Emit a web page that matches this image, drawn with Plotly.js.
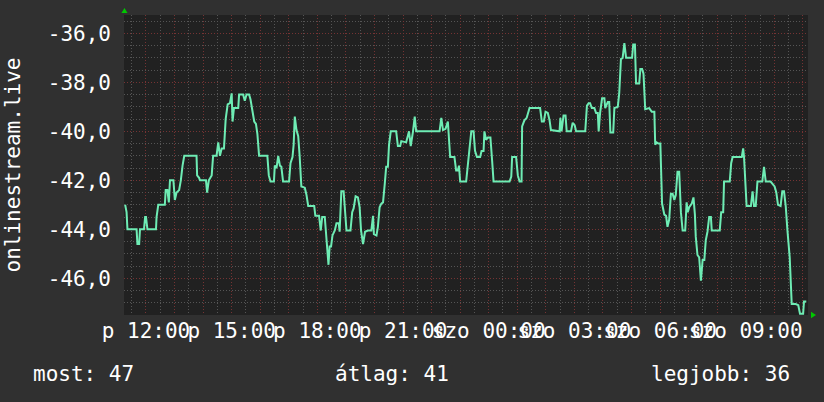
<!DOCTYPE html>
<html>
<head>
<meta charset="utf-8">
<script src="https://cdn.plot.ly/plotly-3.0.1.min.js"></script>
<style>html,body{margin:0;padding:0;background:#303030;}#chart{width:824px;height:402px;}</style>
</head>
<body>
<div id="chart"></div>
<script>
// time in hours from Friday 00:00 (values > 24 are Saturday)
const hours = [
 11.27,11.32,11.35,11.67,11.70,11.76,11.79,11.93,11.97,12.00,
 12.05,12.35,12.37,12.43,12.66,12.69,12.75,12.80,12.84,12.96,
 13.01,13.07,13.16,13.22,13.28,13.34,13.77,13.79,13.86,13.89,
 14.10,14.14,14.20,14.30,14.35,14.47,14.53,14.59,14.65,14.73,
 14.79,14.86,14.94,15.00,15.03,15.08,15.23,15.26,15.40,15.46,
 15.52,15.61,15.66,15.72,15.79,15.85,15.90,15.96,16.25,16.30,
 16.36,16.48,16.51,16.57,16.63,16.69,16.74,16.80,17.01,17.06,
 17.13,17.17,17.21,17.27,17.33,17.38,17.44,17.56,17.62,17.68,
 17.89,17.93,18.06,18.12,18.17,18.26,18.29,18.34,18.39,18.43,
 18.48,18.53,18.61,18.67,18.75,18.78,18.84,18.92,18.97,19.02,
 19.16,19.22,19.27,19.34,19.42,19.48,19.53,19.60,19.67,19.77,
 19.89,19.95,19.98,20.07,20.12,20.18,20.24,20.30,20.36,20.41,
 20.47,20.51,20.57,20.76,20.82,20.90,20.94,21.11,21.21,21.27,
 21.35,21.41,21.46,22.28,22.34,22.40,22.49,22.57,22.65,22.80,
 22.86,22.92,22.96,23.00,23.21,23.27,23.33,23.39,23.47,23.52,
 23.59,23.70,23.75,23.82,23.85,23.91,23.97,24.06,24.12,24.17,
 24.73,24.79,24.82,24.96,25.02,25.08,25.15,25.17,25.25,25.33,
 25.43,25.80,25.86,25.93,25.99,26.07,26.13,26.18,26.48,26.51,
 26.55,26.62,26.69,26.73,26.88,26.94,27.01,27.06,27.38,27.44,
 27.50,27.55,27.61,27.70,27.76,27.82,27.85,27.90,27.97,28.05,
 28.08,
 28.17,28.22,28.26,28.36,28.40,28.52,28.57,28.63,28.69,28.75,
 28.81,29.02,29.06,29.12,29.16,29.27,29.31,29.37,29.42,29.48,
 29.62,29.71,29.80,29.83,29.88,29.94,30.01,30.07,30.15,30.21,
 30.26,30.32,30.38,30.44,30.50,30.55,30.61,30.67,30.73,30.79,
 30.88,30.93,30.97,31.02,31.11,31.17,31.22,31.25,31.31,31.37,
 31.43,31.49,31.55,31.60,31.66,31.72,31.78,31.81,32.09,32.14,
 32.21,32.24,32.44,32.49,32.54,32.86,32.91,32.94,32.98,33.03,
 33.18,33.24,33.29,33.35,33.41,33.58,33.64,33.70,33.87,33.93,
 34.01,34.07,34.13,34.22,34.28,34.34,34.40,34.46,34.54,34.61,
 34.75,34.84,34.90,35.01,35.04,35.12
];
const position = [
 -43.0,-43.3,-44.0,-44.0,-44.6,-44.6,-44.0,-44.0,-43.5,-43.5,
 -44.0,-44.0,-43.5,-43.0,-43.0,-42.4,-42.4,-42.9,-42.0,-42.0,
 -42.8,-42.5,-42.4,-42.0,-41.4,-41.0,-41.0,-41.8,-41.9,-42.0,
 -42.0,-42.5,-42.0,-41.8,-41.0,-41.0,-40.45,-41.0,-40.7,-40.7,
 -39.5,-38.9,-38.85,-38.45,-39.6,-39.05,-39.05,-38.5,-38.5,-38.75,
 -38.5,-38.5,-38.7,-39.1,-39.6,-39.7,-40.1,-41.0,-41.0,-41.8,
 -42.05,-42.05,-41.4,-41.5,-41.0,-41.4,-41.45,-42.05,-42.05,-41.3,
 -41.05,-40.55,-39.4,-39.95,-40.2,-41.0,-42.25,-42.3,-42.6,-43.05,
 -43.05,-43.45,-43.45,-44.05,-43.5,-43.5,-44.05,-44.7,-45.45,-44.7,
 -44.7,-44.25,-44.05,-43.75,-43.75,-44.1,-42.45,-42.45,-43.4,-44.05,
 -44.05,-43.3,-43.15,-42.65,-42.7,-43.1,-44.05,-44.6,-44.1,-44.05,
 -44.05,-43.45,-44.2,-44.25,-43.9,-43.1,-42.95,-42.9,-42.15,-41.45,
 -41.45,-40.55,-40.0,-40.0,-40.6,-40.6,-40.4,-40.45,-40.0,-40.6,
 -40.0,-39.4,-40.0,-40.0,-39.45,-39.95,-39.9,-39.6,-41.05,-41.05,
 -41.6,-41.6,-41.4,-42.05,-42.05,-41.3,-40.45,-40.0,-40.0,-40.8,
 -41.05,-41.05,-40.8,-40.8,-40.0,-40.35,-40.25,-40.25,-41.2,-42.05,
 -42.05,-41.85,-41.05,-41.05,-41.8,-42.05,-42.05,-39.8,-39.55,-39.45,
 -39.05,-39.05,-39.6,-39.6,-39.2,-39.25,-39.55,-39.95,-40.0,-39.45,
 -40.0,-39.35,-39.35,-40.0,-40.0,-39.65,-39.75,-40.0,-40.0,-38.95,
 -38.85,-38.85,-39.05,-39.05,-39.25,-39.25,-40.0,-39.25,-38.65,-38.65,
 -39.05,
 -38.8,-38.8,-40.05,-40.05,-39.05,-39.0,-38.45,-37.05,-37.0,-36.4,
 -37.0,-37.0,-36.45,-36.45,-38.05,-38.05,-37.45,-37.45,-37.65,-39.1,
 -39.05,-39.2,-39.2,-40.55,-40.45,-40.5,-40.5,-42.95,-43.4,-43.45,
 -43.9,-43.6,-42.55,-42.55,-42.8,-42.6,-41.65,-41.65,-43.3,-44.05,
 -44.05,-42.9,-43.3,-43.1,-42.95,-42.7,-43.4,-44.3,-45.05,-45.15,
 -46.1,-45.25,-45.25,-44.45,-44.1,-43.5,-43.5,-44.05,-44.05,-43.3,
 -43.3,-42.05,-42.05,-41.3,-41.05,-41.05,-40.7,-41.05,-42.25,-43.05,
 -43.05,-42.45,-43.05,-43.05,-42.05,-42.05,-41.45,-42.05,-42.05,-42.15,
 -42.25,-42.5,-43.0,-43.05,-42.45,-42.45,-43.05,-44.05,-45.15,-47.05,
 -47.05,-47.1,-47.45,-47.45,-46.95,-46.95
];

const xLabelHours = [12, 15, 18, 21, 24, 27, 30, 33];
const xLabels = ["p 12:00", "p 15:00", "p 18:00", "p 21:00", "szo 00:00", "szo 03:00", "szo 06:00", "szo 09:00"];
const yTickVals = [-46, -44, -42, -40, -38, -36];
const yTickText = ["-46,0", "-44,0", "-42,0", "-40,0", "-38,0", "-36,0"];
const statNames = ["most", "átlag", "legjobb"];
const statValues = [47, 41, 36];
const yTitle = "onlinestream.live";

// hourly grid with labels every 3 hours
const gridHours = [];
const gridText = [];
for (let h = 12; h <= 35; h++) {
  gridHours.push(h);
  const i = xLabelHours.indexOf(h);
  gridText.push(i >= 0 ? xLabels[i] : "");
}

const FONT = "DejaVu Sans Mono";
const FS = 21;
const GRID_MAJOR = "#753333";
const GRID_MINOR = "#555555";

const trace = {
  x: hours, y: position, type: "scatter", mode: "lines",
  line: {color: "#6eecb4", width: 2},
  hoverinfo: "skip"
};

const statX = [-0.136, 0.305, 0.768];
const annotations = statNames.map((n, i) => ({
  xref: "paper", yref: "paper", x: statX[i], y: -0.198,
  xanchor: "left", yanchor: "middle", showarrow: false,
  text: n + ": " + statValues[i],
  font: {family: FONT, size: FS, color: "#ffffff"}
}));

const layout = {
  width: 824, height: 402,
  margin: {l: 124, r: 16, t: 15, b: 87, pad: 0},
  paper_bgcolor: "#303030",
  plot_bgcolor: "#212121",
  showlegend: false,
  font: {family: FONT, size: FS, color: "#ffffff"},
  xaxis: {
    range: [11.23, 35.18], type: "linear",
    tickmode: "array", tickvals: gridHours, ticktext: gridText,
    tickangle: 0, ticks: "", ticklabelstandoff: 1,
    tickfont: {family: FONT, size: FS, color: "#ffffff"},
    showgrid: true, gridcolor: GRID_MAJOR, griddash: "1px,2px", gridwidth: 1,
    minor: {dtick: 0.5, tick0: 0, showgrid: true, gridcolor: GRID_MINOR, griddash: "1px,2px", gridwidth: 1},
    zeroline: false, showline: false, fixedrange: true
  },
  yaxis: {
    range: [-47.5, -35.25],
    tickmode: "array", tickvals: yTickVals, ticktext: yTickText,
    ticks: "", ticklabelstandoff: 12,
    tickfont: {family: FONT, size: FS, color: "#ffffff"},
    showgrid: true, gridcolor: GRID_MAJOR, griddash: "1px,2px", gridwidth: 1,
    minor: {dtick: 0.5, tick0: 0, showgrid: true, gridcolor: GRID_MINOR, griddash: "1px,2px", gridwidth: 1},
    zeroline: false, showline: false, fixedrange: true,
    title: {text: yTitle, standoff: 21, font: {family: FONT, size: FS, color: "#ffffff"}}
  },
  shapes: [
    {type: "path", xref: "paper", yref: "paper",
     path: "M0.0007,1.0233 L-0.0037,1.0067 L0.0051,1.0067 Z",
     fillcolor: "#00c800", line: {width: 0}},
    {type: "path", xref: "paper", yref: "paper",
     path: "M1.0117,0 L1.0044,0.011 L1.0044,-0.011 Z",
     fillcolor: "#00c800", line: {width: 0}}
  ],
  annotations: annotations
};

Plotly.newPlot("chart", [trace], layout, {staticPlot: true, displayModeBar: false});
</script>
</body>
</html>
